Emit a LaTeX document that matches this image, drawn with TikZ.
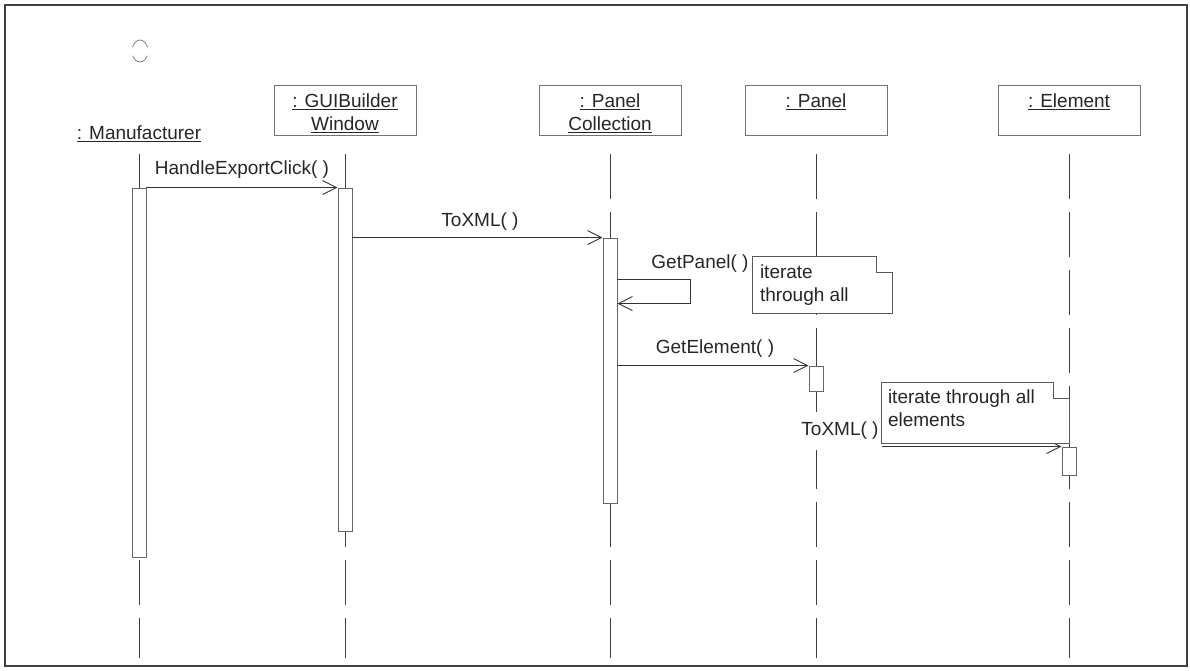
\documentclass[tikz,border=0pt]{standalone}
\usepackage{fontspec}
\setmainfont{Liberation Sans}
\usetikzlibrary{arrows.meta,calc}

\begin{document}
\begin{tikzpicture}[x=1pt,y=-1pt,
  every node/.style={font=\fontsize{19}{23}\selectfont, inner sep=0pt, text=black!85},
  frame/.style={draw=black!75, line width=2pt},
  headbox/.style={draw=black!55, line width=0.9pt, fill=white, minimum width=142pt, minimum height=50pt},
  headtext/.style={align=center},
  lifeline/.style={draw=black!75, line width=0.9pt, dash pattern=on 45pt off 13pt},
  actbar/.style={draw=black!60, line width=0.9pt, fill=white, minimum width=14pt},
  msg/.style={draw=black!80, line width=0.9pt, -{Straight Barb[length=14pt,width=14pt]}},
  notebox/.style={fill=white},
  noteline/.style={draw=black!65, line width=0.9pt},
  notetext/.style={align=left},
]
\useasboundingbox (0,0) rectangle (1190,671);

% outer frame
\draw[frame] (5,5) rectangle (1187,666);

% small open circle in the corner
\draw[black!45, line width=0.9pt] (140,51) ++(200:8 and 11) arc[start angle=200, end angle=340, x radius=8, y radius=11];
\draw[black!45, line width=0.9pt] (140,51) ++(25:8 and 11) arc[start angle=25, end angle=155, x radius=8, y radius=11];

% object heads
\node[headtext] (man) at (139,134) {\underline{: Manufacturer}};
\node[headbox] (gui) at (345,110) {};
\node[headbox] (pc)  at (610,110) {};
\node[headbox] (pnl) at (816,110) {};
\node[headbox] (elm) at (1069,110) {};
\node[headtext, anchor=north] (guiname) at ($(gui.north)+(0,9)$) {\underline{: GUIBuilder}\\\underline{Window}};
\node[headtext, anchor=north] (pcname)  at ($(pc.north)+(0,9)$)  {\underline{: Panel}\\\underline{Collection}};
\node[headtext, anchor=north] (pnlname) at ($(pnl.north)+(0,9)$) {\underline{: Panel}};
\node[headtext, anchor=north] (elmname) at ($(elm.north)+(0,9)$) {\underline{: Element}};

% lifelines
\coordinate (manTop) at (139,154);  \coordinate (manEnd) at (139,658);
\coordinate (guiTop) at (345,154);  \coordinate (guiEnd) at (345,658);
\coordinate (pcTop)  at (610,154);  \coordinate (pcEnd)  at (610,658);
\coordinate (pnlTop) at (816,154);  \coordinate (pnlEnd) at (816,658);
\coordinate (elmTop) at (1069,154); \coordinate (elmEnd) at (1069,658);
\draw[lifeline] (manTop) -- (manEnd);
\draw[lifeline] (guiTop) -- (guiEnd);
\draw[lifeline] (pcTop) -- (pcEnd);
\draw[lifeline] (pnlTop) -- (pnlEnd);
\draw[lifeline] (elmTop) -- (elmEnd);

% activation bars
\node[actbar, minimum height=369pt] (manbar) at (139,372.5) {};
\node[actbar, minimum height=343pt] (guibar) at (345,359.5) {};
\node[actbar, minimum height=265pt] (pcbar)  at (610,370.5) {};
\node[actbar, minimum height=25pt]  (pnlbar) at (816,378.5) {};
\node[actbar, minimum height=28pt]  (elmbar) at (1069,461) {};

% messages
\draw[msg] (manbar.north east) -- (guibar.north west);
\node (m1) at (242,170) {HandleExportClick( )};

\draw[msg] (guibar.east |- pcbar.north) -- (pcbar.north west);
\node (m2) at (480,222) {ToXML( )};

\draw[msg] ($(pcbar.north east)+(0,42)$) -- ++(73,0) -- ++(0,24) -- ++(-73,0);
\node (m3) at (700,264) {GetPanel( )};

\draw[msg] (pcbar.east |- pnlbar.north) -- (pnlbar.north west);
\node (m4) at (715,349) {GetElement( )};

\draw[msg] (pnlbar.center |- elmbar.north) -- (elmbar.north west);
\node[fill=white, inner xsep=3pt, inner ysep=10pt] (m5) at (840,431) {ToXML( )};

% notes
\node[notebox, minimum width=139pt, minimum height=56pt] (note1) at (822.5,285) {};
\draw[noteline] (note1.north west) -- ($(note1.north east)+(-16,0)$) -- ++(0,16) -- ++(16,0)
  -- (note1.south east) -- (note1.south west) -- cycle;
\node[notetext, anchor=north west] (note1txt) at ($(note1.north west)+(7,8)$) {iterate\\through all};

\node[notebox, minimum width=187pt, minimum height=60pt] (note2) at (975.5,413) {};
\draw[noteline] (note2.north west) -- ($(note2.north east)+(-16,0)$) -- ++(0,16) -- ++(16,0)
  -- (note2.south east) -- (note2.south west) -- cycle;
\node[notetext, anchor=north west] (note2txt) at ($(note2.north west)+(6,7)$) {iterate through all\\elements};
\end{tikzpicture}
\end{document}
